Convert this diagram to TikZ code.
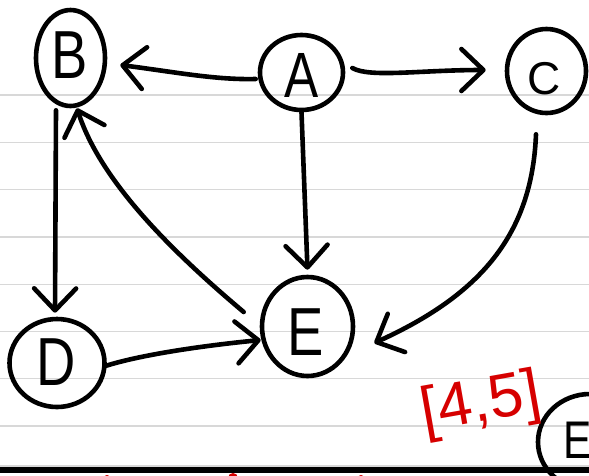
\documentclass[tikz,border=0pt]{standalone}
\usepackage{fontspec}
\setmainfont{Liberation Sans}
\newfontfamily\handfont{Liberation Sans}[FakeStretch=0.8]
\usetikzlibrary{arrows.meta,shapes.geometric}
\definecolor{ruled}{RGB}{216,216,216}
\definecolor{redpen}{RGB}{214,0,0}
\begin{document}
\begin{tikzpicture}[x=1pt,y=-1pt,
  vtx/.style={ellipse,draw=black,line width=4.6pt,inner sep=0pt},
  letter/.style={inner sep=0pt,font=\handfont\fontsize{68}{68}\selectfont},
  edge/.style={draw=black,line width=4.6pt,line cap=round,line join=round},
  arr/.style={edge,-{Straight Barb[length=22pt,width=42pt,round]}},
  rule/.style={draw=ruled,line width=1.3pt}]
\useasboundingbox (0,0) rectangle (589,475);
\begin{scope}
\clip (0,0) rectangle (589,475);
\fill[white] (0,0) rectangle (589,475);
\foreach \y in {95,142.3,...,430} {\draw[rule] (0,\y) -- (589,\y);}
\draw[rule] (0,466) -- (589,466);
\fill[redpen] (107,478) circle (3);
\fill[redpen] (233,478) circle (5);
\fill[redpen] (361,478) circle (3);
\draw[line width=6pt] (0,470) -- (589,470);

% vertices
\node[vtx,minimum width=69pt,minimum height=96pt] (b) at (70.5,58) {};
\node[letter] (bl) at (70,55) {B};
\node[vtx,minimum width=83pt,minimum height=75pt] (a) at (301.5,72.5) {};
\node[letter,font=\handfont\fontsize{64}{64}\selectfont] (al) at (302,75) {A};
\node[vtx,minimum width=79pt,minimum height=84pt] (c) at (546.5,71) {};
\node[letter,font=\fontsize{46}{46}\selectfont] (cl) at (544,79) {C};
\node[vtx,minimum width=95pt,minimum height=88pt] (d) at (57,363) {};
\node[letter] (dl) at (56,362) {D};
\node[vtx,minimum width=91pt,minimum height=99pt] (e) at (307.5,326.5) {};
\node[letter] (el) at (306,332) {E};
\node[vtx,minimum width=104pt,minimum height=96pt] (e2) at (590,442) {};
\node[letter,font=\handfont\fontsize{53}{53}\selectfont] (e2l) at (578,440) {E};

% red note
\node[inner sep=0pt,text=redpen,font=\fontsize{62}{62}\selectfont,rotate=10] (note) at (481,405) {[4,5]};

% edges
\draw[arr] ([shift={(-2,6.5)}]a.west) .. controls (215,80) and (175,72) .. ([shift={(13,7)}]b.east);
\draw[arr] ([shift={(7,-4.5)}]a.east) .. controls (370,78) and (420,70) .. ([shift={(-19,-1)}]c.west);
\draw[arr] (a.south) -- ([shift={(0,-5)}]e.north);
\draw[arr] ([shift={(-14.5,2)}]b.south) -- ([shift={(-2,-4)}]d.north);
\draw[arr] ([shift={(-16,-14.5)}]e.west) .. controls (170,250) and (100,180) .. ([shift={(6.5,0)}]b.south);
\draw[arr] ([shift={(-1.5,3)}]d.east) .. controls (140,355) and (200,346) .. ([shift={(1,13.5)}]e.west);
\draw[arr] ([shift={(-10.5,19)}]c.south) .. controls (532,235) and (480,295) .. ([shift={(19,16.5)}]e.east);
\end{scope}
\end{tikzpicture}
\end{document}
